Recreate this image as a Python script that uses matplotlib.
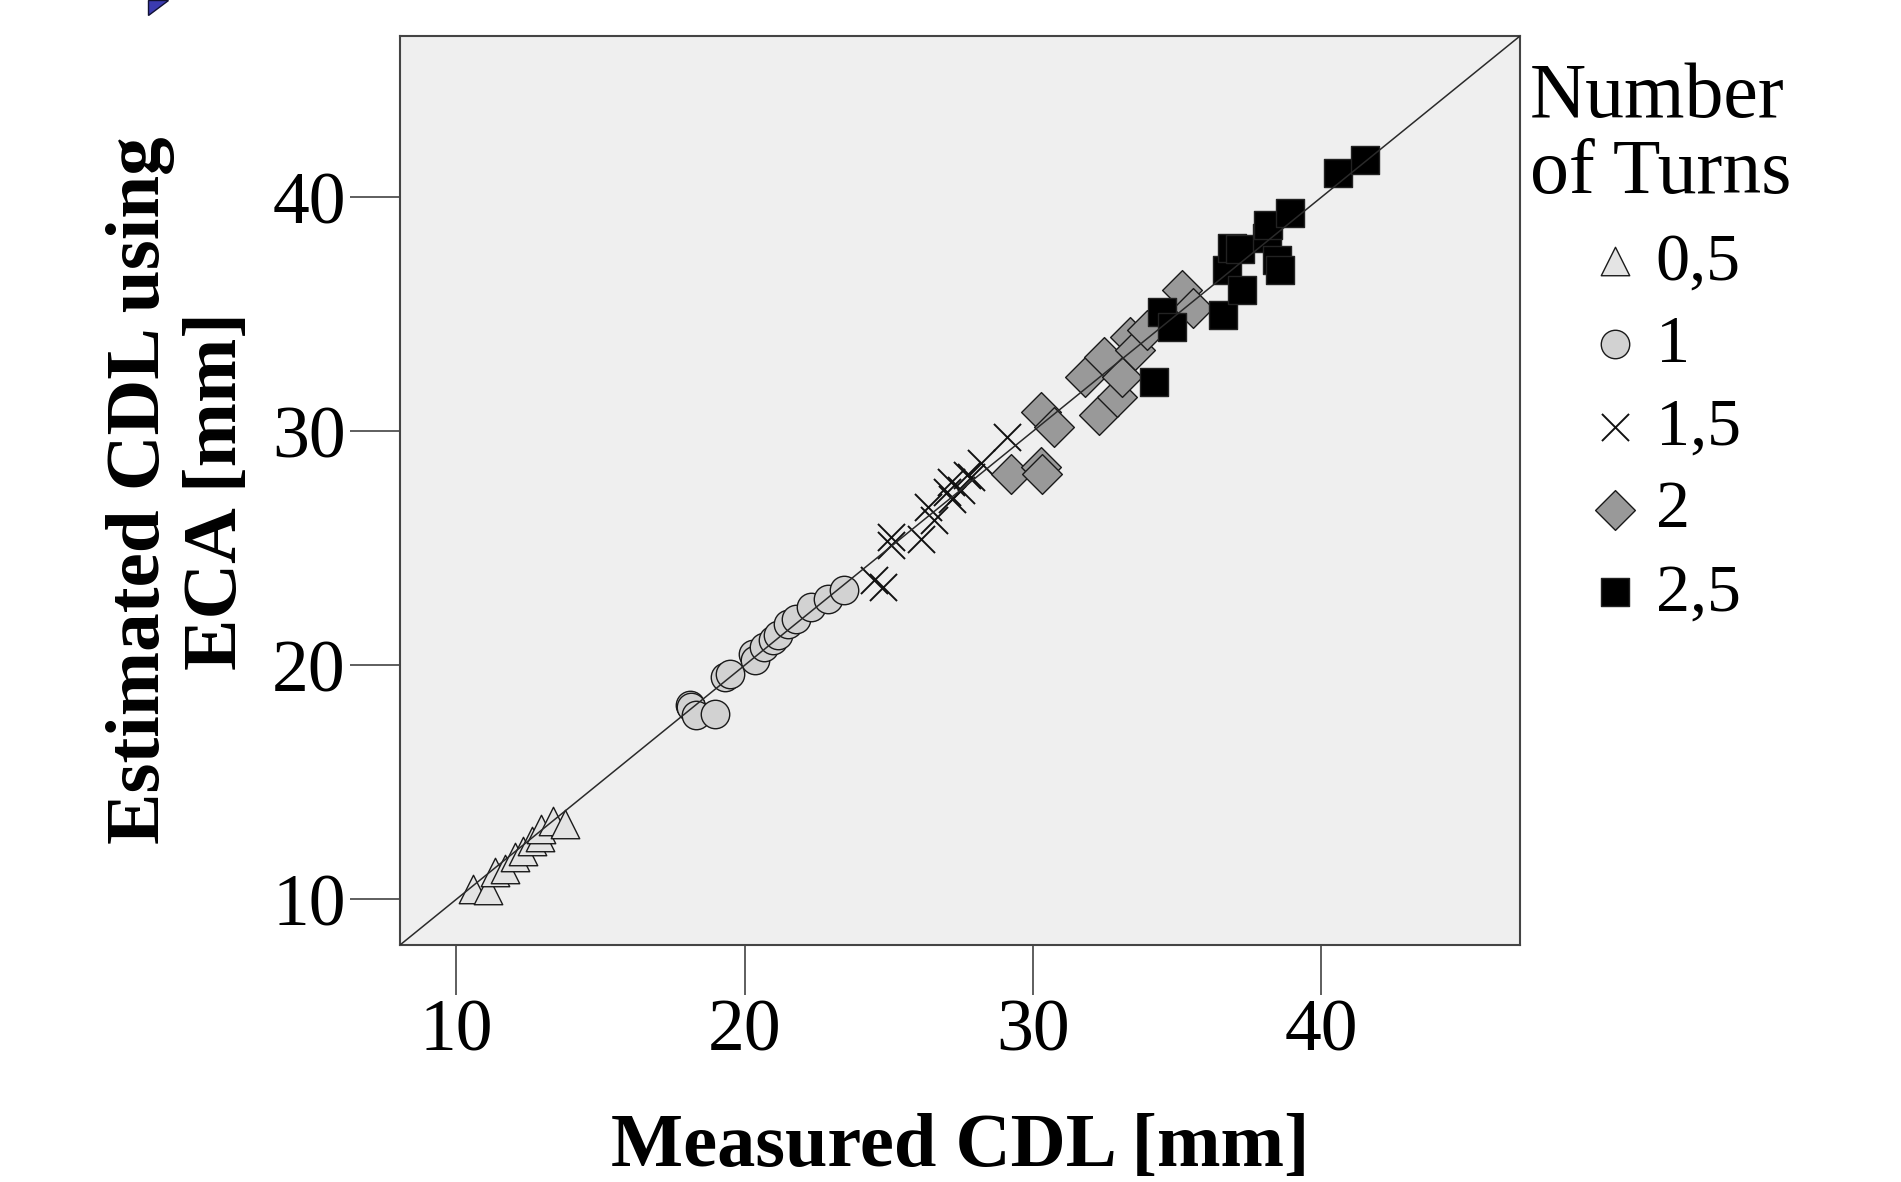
import numpy as np
import matplotlib
matplotlib.use("Agg")
import matplotlib.pyplot as plt
from matplotlib.patches import Polygon

plt.rcParams['font.family'] = ['Liberation Serif', 'DejaVu Serif']

# number of turns groups: measured CDL (x) vs estimated CDL using ECA (y)
turns = ["0,5", "1", "1,5", "2", "2,5"]

tri_x = [10.57, 11.09, 11.35, 11.70, 12.04, 12.33, 12.62, 12.91, 12.95, 13.37, 13.77]
tri_y = [10.44, 10.39, 11.15, 11.29, 11.79, 12.08, 12.50, 12.65, 13.00, 13.36, 13.22]

circ_x = [18.10, 18.16, 18.33, 18.96, 19.31, 19.48, 20.29, 20.35, 20.69, 20.98,
          21.16, 21.50, 21.79, 22.31, 22.89, 23.46]
circ_y = [18.30, 18.21, 17.86, 17.93, 19.50, 19.64, 20.50, 20.21, 20.78, 21.07,
          21.28, 21.78, 22.00, 22.49, 22.85, 23.21]

cross_x = [24.50, 24.79, 25.08, 25.08, 26.11, 26.35, 26.57, 27.04, 27.15, 27.21,
           27.50, 27.73, 27.84, 28.19, 29.11]
cross_y = [23.63, 23.35, 25.49, 25.13, 25.42, 26.78, 26.20, 27.41, 27.84, 27.13,
           27.50, 28.13, 28.06, 28.63, 29.77]

diam_x = [29.23, 30.27, 30.32, 30.27, 30.73, 31.82, 32.28, 32.46, 32.92, 33.09,
          33.38, 33.55, 33.96, 35.17, 35.57]
diam_y = [28.20, 28.49, 28.20, 30.84, 30.20, 32.34, 30.70, 33.19, 31.48, 32.34,
          34.05, 33.48, 34.33, 36.05, 35.27]

sq_x = [34.19, 34.48, 34.82, 36.61, 36.73, 36.90, 37.20, 37.25, 38.11, 38.17,
        38.46, 38.57, 38.92, 40.59, 41.51]
sq_y = [32.12, 35.12, 34.48, 34.98, 36.90, 37.83, 37.80, 36.05, 38.26, 38.83,
        37.33, 36.90, 39.33, 41.04, 41.61]

lims = (8.05, 46.9)
ticks = [10, 20, 30, 40]

fig = plt.figure(figsize=(19.01, 11.82), dpi=100)
ax = fig.add_axes([400/1901, 1 - 945/1182, 1120/1901, 909/1182])
ax.set_facecolor('#efefef')

ec = '#1a1a1a'
ax.scatter(tri_x, tri_y, s=420, marker='^', facecolor='#e4e4e4', edgecolor=ec,
           linewidths=1.0, label=turns[0], zorder=2)
ax.scatter(circ_x, circ_y, s=420, marker='o', facecolor='#d2d2d2', edgecolor=ec,
           linewidths=1.0, label=turns[1], zorder=2)
ax.scatter(cross_x, cross_y, s=380, marker='x', color='#111111',
           linewidths=1.4, label=turns[2], zorder=2)
ax.scatter(diam_x, diam_y, s=410, marker='D', facecolor='#999999', edgecolor=ec,
           linewidths=1.0, label=turns[3], zorder=2)
ax.scatter(sq_x, sq_y, s=420, marker='s', facecolor='black', edgecolor='#222222',
           linewidths=1.0, label=turns[4], zorder=2)

# identity line
ax.axline((10, 10), slope=1, color='#2a2a2a', lw=1.1, zorder=3)

ax.set_xlim(lims)
ax.set_ylim(lims)
ax.set_xticks(ticks)
ax.set_yticks(ticks)
ax.tick_params(direction='out', length=36, width=1.1, color='#333333',
               labelsize=53, pad=3)
for sp in ax.spines.values():
    sp.set_color('#444444')
    sp.set_linewidth(1.5)

ax.set_xlabel("Measured CDL [mm]", fontsize=55, fontweight='bold')
ax.xaxis.set_label_coords(0.5, -0.185)
ax.set_ylabel("Estimated CDL using\nECA [mm]", fontsize=55.5, fontweight='bold',
              linespacing=1.14)
ax.yaxis.set_label_coords(-0.1325, 0.5)

leg = ax.legend(title="Number\nof Turns", loc='upper left',
                bbox_to_anchor=(1530/1901, 1 - 62/1182),
                bbox_transform=fig.transFigure, frameon=False,
                fontsize=49, title_fontsize=56, borderpad=0,
                handlelength=1.0, handletextpad=0.1, labelspacing=0.31,
                scatterpoints=1, borderaxespad=0)
leg.get_title().set_linespacing(1.1)

# clipped slide arrow in the corner
fig.patches.append(Polygon([[148/1901, 1 - 15/1182], [148/1901, 1.0], [168/1901, 1.0]],
                           closed=True, transform=fig.transFigure,
                           facecolor='#3b3bb0', edgecolor='#111133', lw=1.0))

fig.savefig("out.png", dpi=100)
